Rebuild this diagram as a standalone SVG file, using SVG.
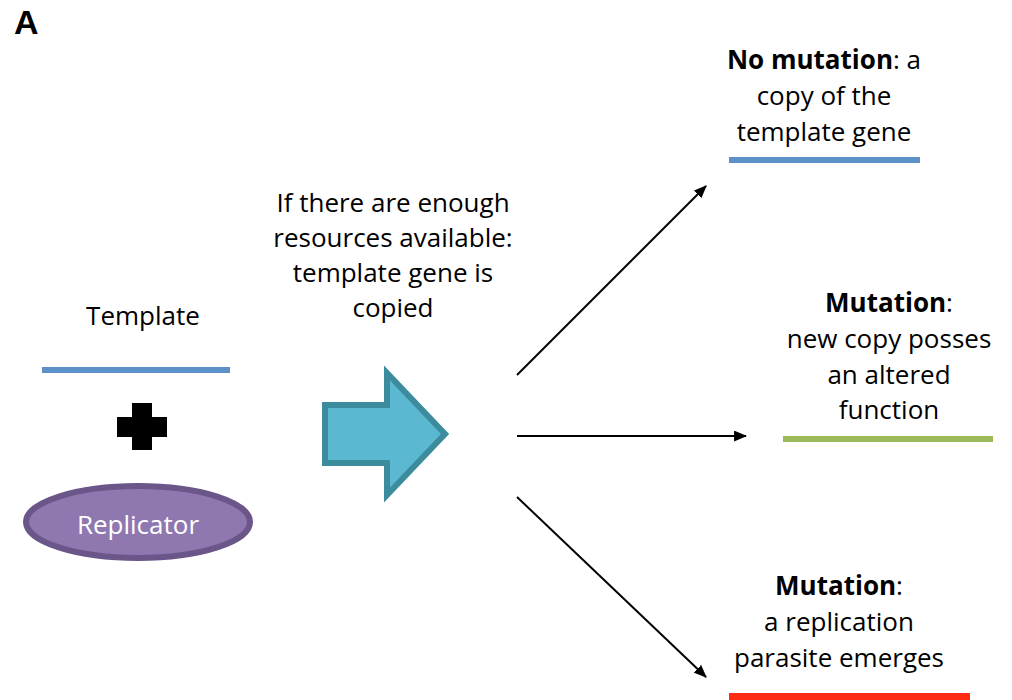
<svg xmlns="http://www.w3.org/2000/svg" width="1012" height="700" viewBox="0 0 1012 700">
<style>
text{font-family:"Open Sans","Noto Sans","Liberation Sans",sans-serif;font-size:26px;fill:#000;text-anchor:middle}
.b{font-weight:bold}
.conn{stroke:#000;stroke-width:2;fill:none;marker-end:url(#ah)}
.gene{stroke-width:6}
</style>
<defs>
<marker id="ah" viewBox="0 0 12 10" refX="11" refY="5" markerWidth="6.5" markerHeight="5.5" orient="auto" markerUnits="strokeWidth">
<path d="M0,0 L12,5 L0,10 z" fill="#000"/>
</marker>
</defs>
<rect width="1012" height="700" fill="#fff"/>
<text x="14" y="34" class="b" style="text-anchor:start;font-size:34px;font-family:'Liberation Sans',Arial,sans-serif">A</text>

<g id="template">
<text x="143" y="325">Template</text>
<line x1="42" y1="370" x2="230" y2="370" stroke="#5b90c9" class="gene"/>
</g>
<g id="plus">
<rect x="132" y="403" width="20" height="47" fill="#000"/>
<rect x="117" y="417" width="50" height="20" fill="#000"/>
</g>
<g id="replicator">
<ellipse cx="138" cy="522" rx="112" ry="36" fill="#8f77b0" stroke="#6a5689" stroke-width="6"/>
<text x="138" y="534" style="fill:#fff">Replicator</text>
</g>
<g id="copy-arrow">
<path d="M325,405 H387 V373 L445,434 L387,495 V463 H325 Z" fill="#5ab8d0" stroke="#3c8c9e" stroke-width="6" stroke-linejoin="miter"/>
</g>
<g id="condition">
<text x="393" y="212">If there are enough</text>
<text x="393" y="247">resources available:</text>
<text x="393" y="282">template gene is</text>
<text x="393" y="317">copied</text>
</g>

<g id="connectors">
<line x1="517" y1="375" x2="706" y2="186" class="conn"/>
<line x1="517" y1="436" x2="746" y2="436" class="conn"/>
<line x1="517" y1="497" x2="706" y2="677" class="conn"/>
</g>

<g id="no-mutation">
<text x="824" y="69"><tspan class="b">No mutation</tspan>: a</text>
<text x="824" y="105">copy of the</text>
<text x="824" y="141">template gene</text>
<line x1="729" y1="160" x2="920" y2="160" stroke="#5b90c9" class="gene"/>
</g>
<g id="mutation-altered">
<text x="889" y="312"><tspan class="b">Mutation</tspan>:</text>
<text x="889" y="348">new copy posses</text>
<text x="889" y="384">an altered</text>
<text x="889" y="419">function</text>
<line x1="783" y1="439" x2="993" y2="439" stroke="#9bbb59" class="gene"/>
</g>
<g id="mutation-parasite">
<text x="839" y="595"><tspan class="b">Mutation</tspan>:</text>
<text x="839" y="631">a replication</text>
<text x="839" y="667">parasite emerges</text>
<rect x="729" y="693" width="241" height="10" fill="#ff2b12"/>
</g>
</svg>
